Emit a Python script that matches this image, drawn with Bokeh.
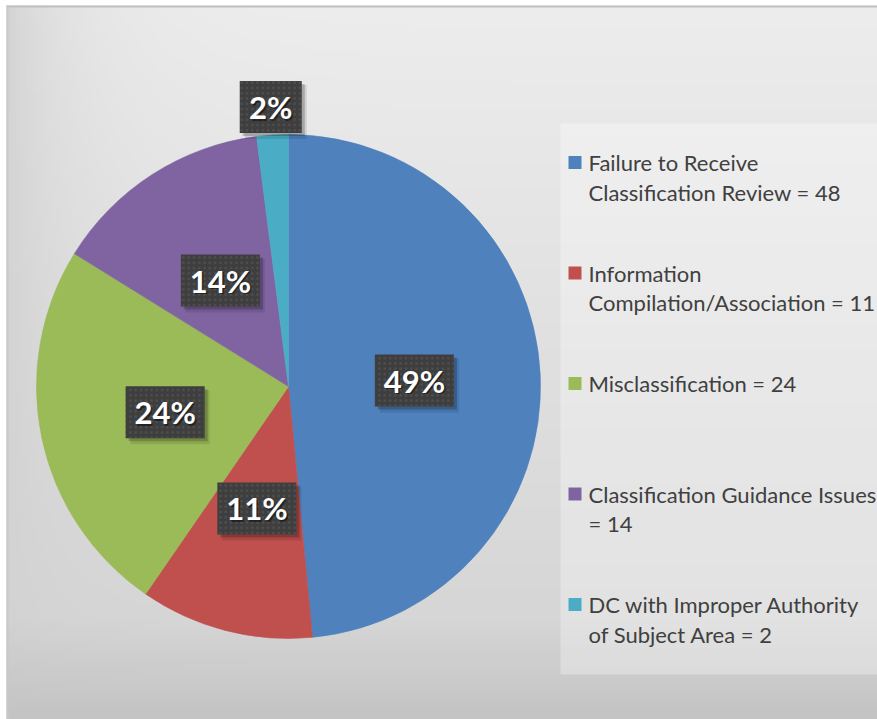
import numpy as np
from bokeh.plotting import figure
from bokeh.models import Range1d, ColumnDataSource
from bokeh.core.properties import value
from bokeh.embed import file_html
from bokeh.resources import INLINE

# ---------------- data ----------------
categories = [
    "Failure to Receive Classification Review",
    "Information Compilation/Association",
    "Misclassification",
    "Classification Guidance Issues",
    "DC with Improper Authority of Subject Area",
]
counts = [48, 11, 24, 14, 2]
pct_labels = ["49%", "11%", "24%", "14%", "2%"]
# legend names broken into the lines shown in the picture
legend_name_lines = [
    ["Failure to Receive", "Classification Review"],
    ["Information", "Compilation/Association"],
    ["Misclassification"],
    ["Classification Guidance Issues", ""],
    ["DC with Improper Authority", "of Subject Area"],
]
colors = ["#4F81BD", "#C0504D", "#9BBB59", "#8064A2", "#4BACC6"]

# ---------------- layout (reference pixel coords, y down) ----------------
W, H = 877, 719
def Y(ry):
    return H - ry

FX0, FY0 = 6, 5          # chart frame top-left
CX, CY, R = 288, 386, 252

p = figure(width=W, height=H, x_range=Range1d(0, W), y_range=Range1d(0, H),
           output_backend="svg", toolbar_location=None, min_border=0,
           x_axis_location=None, y_axis_location=None)
p.grid.visible = False
p.outline_line_color = None
p.background_fill_color = "white"
p.border_fill_color = "white"

# background gradient of the chart area
nx, ny = 175, 143
xs = np.linspace(FX0, W, nx)
ys_ref = np.linspace(H, FY0, ny)
X, YR = np.meshgrid(xs, ys_ref)
g = np.interp(YR, [0, 620, 719], [237, 214, 196]) - 24 * np.exp(-(X - FX0) / 70.0) * (1 - YR / 719.0)
g = np.clip(g, 0, 255).astype(np.uint32)
img = (np.uint32(255) << 24) | (g << 16) | (g << 8) | g
p.image_rgba(image=[img], x=FX0, y=0, dw=W - FX0, dh=H - FY0)

# frame edges (top and left)
p.quad(left=FX0, right=W, top=Y(FY0), bottom=Y(FY0 + 2), fill_color="#c0c0c0", line_color=None)
p.quad(left=FX0, right=FX0 + 2, top=Y(FY0), bottom=0, fill_color="#c8c8c8", line_color=None)

# ---------------- pie ----------------
total = float(sum(counts))
fr = np.array(counts) / total
cum = np.concatenate([[0.0], np.cumsum(fr)])
start = np.pi / 2 - 2 * np.pi * cum[:-1]
end = np.pi / 2 - 2 * np.pi * cum[1:]
src = ColumnDataSource(dict(start=start, end=end, color=colors, cat=categories))
p.wedge(x=CX, y=Y(CY), radius=R, start_angle="start", end_angle="end", direction="clock",
        fill_color="color", line_color="color", line_width=0.6, source=src)

# ---------------- data labels ----------------
mid = (start + end) / 2
lab_r = np.where(fr < 0.05, R + 28, 0.5 * R)
lx = CX + lab_r * np.cos(mid)
ly = Y(CY) + lab_r * np.sin(mid)
bw = np.array([28 + 17 * len(t) for t in pct_labels])
bh = 52
lsrc = ColumnDataSource(dict(x=lx, y=ly, w=bw, t=pct_labels,
                             sx1=lx + 3, sy1=ly - 3, sx2=lx + 5, sy2=ly - 5))
p.rect(x="sx2", y="sy2", width="w", height=bh + 2, fill_color="black", fill_alpha=0.10, line_color=None, source=lsrc)
p.rect(x="sx1", y="sy1", width="w", height=bh, fill_color="black", fill_alpha=0.20, line_color=None, source=lsrc)
p.rect(x="x", y="y", width="w", height=bh, fill_color="#3e3e3e", line_color=None,
       hatch_pattern="dot", hatch_color="#4e4e4e", hatch_scale=5.3, hatch_weight=1, source=lsrc)
p.text(x="sx1", y="sy1", text="t", text_align="center", text_baseline="middle",
       text_font=value("Lato"), text_font_style="bold", text_font_size="31px",
       text_color="black", text_alpha=0.45, source=ColumnDataSource(dict(sx1=lx + 1.5, sy1=ly - 1.5, t=pct_labels)))
p.text(x="x", y="y", text="t", text_align="center", text_baseline="middle",
       text_font=value("Lato"), text_font_style="bold", text_font_size="31px",
       text_color="white", source=lsrc)

# ---------------- legend ----------------
p.quad(left=560, right=W + 10, top=Y(123), bottom=Y(674), fill_color="white", fill_alpha=0.3, line_color=None)
LY0, LSTEP, LLINE = 162, 110.5, 29.5
tx, ty, tt = [], [], []
sqx, sqy = [], []
for i, (lines, c) in enumerate(zip(legend_name_lines, counts)):
    lines = list(lines)
    lines[-1] = (lines[-1] + " = " + str(c)).strip()
    y0 = LY0 + LSTEP * i
    sqx.append(574.5)
    sqy.append(Y(y0))
    for j, ln in enumerate(lines):
        tx.append(588)
        ty.append(Y(y0 + j * LLINE))
        tt.append(ln)
p.rect(x=sqx, y=sqy, width=13, height=13, fill_color=colors, line_color=None)
p.text(x=tx, y=ty, text=tt, text_align="left", text_baseline="middle",
       text_font=value("Lato"), text_font_size="22px", text_color="#404040")

open("out.html", "w").write(file_html(p, INLINE))
